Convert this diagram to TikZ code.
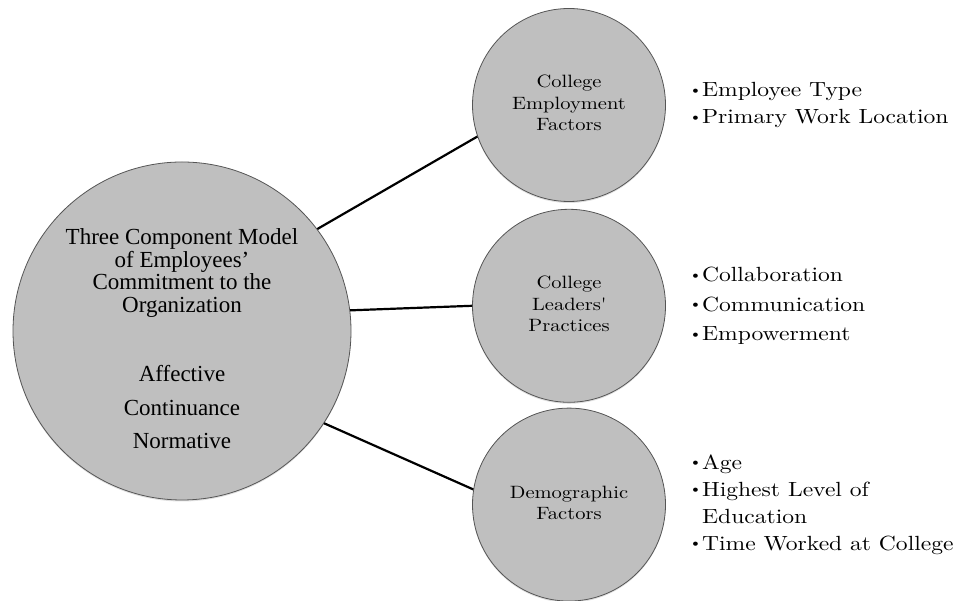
\documentclass[tikz,border=0pt]{standalone}
\usepackage{fontspec}
\setmainfont{lmroman10-regular.otf}[FakeStretch=1.15]
\newfontfamily\timesfont{Liberation Serif}
\usepackage{graphicx}
\usetikzlibrary{positioning, shadows}
\definecolor{discfill}{RGB}{191,191,191}
\definecolor{discedge}{RGB}{85,85,85}
\newcommand{\bul}{\makebox[14pt][l]{\hspace{1pt}\raisebox{0.12em}{\scalebox{0.7}{\textbullet}}}}
\newcommand{\factortext}[1]{\scalebox{0.87}{\begin{tabular}{@{}c@{}}#1\end{tabular}}}
\tikzset{
  disc/.style={circle,draw=discedge,fill=discfill,line width=0.8pt,inner sep=0pt,
    drop shadow={shadow xshift=0pt,shadow yshift=-1.5pt,opacity=0.25}},
  factor/.style={disc,minimum size=193pt,font={\fontsize{20.5}{24.7}\selectfont}},
  link/.style={line width=2.2pt,black},
  itemlist/.style={align=left,inner sep=0pt,font={\fontsize{20.5}{27}\selectfont}}
}

\begin{document}
\begin{tikzpicture}[x=1pt,y=1pt]
  \useasboundingbox (0,0) rectangle (966,601);
  % the commitment model on the left
  \node[disc, minimum size=338pt] (model) at (182,270) {};
  \node[align=center, font={\timesfont\fontsize{23}{22.5}\selectfont}] (modeltxt)
    at ([yshift=-8pt]model.center)
    {Three Component Model\\of Employees’\\Commitment to the\\Organization\\[47pt]
     Affective\\[11pt]Continuance\\[11pt]Normative};
  % the three factor groups
  \node[factor] (emp) at (569,496) {\factortext{College\\Employment\\Factors}};
  \node[factor, below=7pt of emp] (lead) {\factortext{College\\Leaders\textquotesingle\\Practices}};
  \node[factor, below=5pt of lead] (demo) {\factortext{Demographic\\Factors}};
  \node[itemlist, right=22pt of emp] (emplist)
    {\bul Employee Type\\\bul Primary Work Location};
  \node[itemlist, right=22pt of lead, font={\fontsize{20.5}{29.5}\selectfont}] (leadlist)
    {\bul Collaboration\\\bul Communication\\\bul Empowerment};
  \node[itemlist, right=22pt of demo] (demolist)
    {\bul Age\\\bul Highest Level of\\\makebox[14pt]{}Education\\\bul Time Worked at College};
  \draw[link] (model.37.5) -- (emp.199);
  \draw[link] (model.7.3) -- (lead.180);
  \draw[link] (model.-33.2) -- (demo.171.7);
\end{tikzpicture}
\end{document}
